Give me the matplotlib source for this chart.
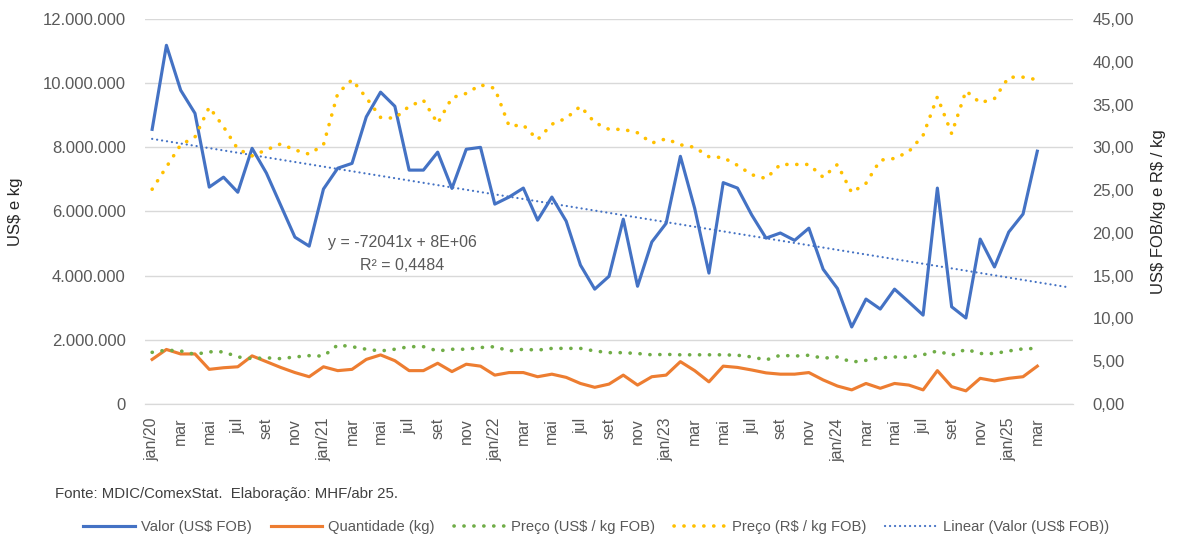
import numpy as np
import matplotlib
matplotlib.use("Agg")
import matplotlib.pyplot as plt
from matplotlib.ticker import FuncFormatter

plt.rcParams['font.family'] = ['Liberation Sans', 'DejaVu Sans']

months = ["jan/20","fev","mar","abr","mai","jun","jul","ago","set","out","nov","dez",
          "jan/21","fev","mar","abr","mai","jun","jul","ago","set","out","nov","dez",
          "jan/22","fev","mar","abr","mai","jun","jul","ago","set","out","nov","dez",
          "jan/23","fev","mar","abr","mai","jun","jul","ago","set","out","nov","dez",
          "jan/24","fev","mar","abr","mai","jun","jul","ago","set","out","nov","dez",
          "jan/25","fev","mar"]

valor = [8.56, 11.18, 9.78, 9.06, 6.76, 7.07, 6.60, 7.97, 7.20, 6.20, 5.20, 4.92,
         6.70, 7.35, 7.50, 8.95, 9.72, 9.28, 7.29, 7.29, 7.85, 6.72, 7.94, 8.00,
         6.23, 6.45, 6.73, 5.73, 6.45, 5.70, 4.33, 3.58, 3.98, 5.76, 3.67, 5.05,
         5.63, 7.72, 6.10, 4.08, 6.90, 6.73, 5.89, 5.17, 5.33, 5.10, 5.48, 4.20,
         3.60, 2.40, 3.27, 2.96, 3.58, 3.18, 2.77, 6.73, 3.03, 2.68, 5.14, 4.27,
         5.36, 5.92, 7.88]  # milhões US$

quantidade = [1.39, 1.70, 1.56, 1.56, 1.08, 1.13, 1.16, 1.50, 1.32, 1.14, 0.98, 0.85,
              1.16, 1.04, 1.08, 1.39, 1.53, 1.35, 1.04, 1.04, 1.27, 1.01, 1.24, 1.18,
              0.90, 0.98, 0.98, 0.85, 0.93, 0.83, 0.64, 0.52, 0.62, 0.90, 0.59, 0.85,
              0.90, 1.32, 1.04, 0.69, 1.18, 1.14, 1.06, 0.97, 0.93, 0.93, 0.98, 0.75,
              0.56, 0.44, 0.64, 0.49, 0.64, 0.59, 0.44, 1.04, 0.54, 0.41, 0.80, 0.72,
              0.80, 0.85, 1.18]  # milhões kg

preco_usd = [6.04, 6.3, 6.2, 5.8, 6.1, 6.1, 5.5, 5.3, 5.4, 5.3, 5.5, 5.65,
             5.6, 6.9, 6.7, 6.4, 6.2, 6.4, 6.7, 6.7, 6.2, 6.4, 6.4, 6.6,
             6.7, 6.2, 6.4, 6.3, 6.5, 6.5, 6.5, 6.2, 6.0, 6.0, 5.9, 5.75,
             5.8, 5.75, 5.75, 5.75, 5.75, 5.7, 5.5, 5.15, 5.7, 5.6, 5.7, 5.35,
             5.5, 4.9, 5.1, 5.4, 5.5, 5.45, 5.75, 6.2, 5.7, 6.4, 5.9, 5.9,
             6.2, 6.45, 6.5]

preco_brl = [25.1, 27.7, 30.3, 31.2, 34.7, 32.4, 29.8, 29.0, 29.7, 30.4, 29.7, 29.2,
             30.3, 36.3, 37.9, 35.8, 33.5, 33.4, 34.8, 35.5, 32.8, 35.8, 36.3, 37.3,
             36.9, 32.5, 32.6, 30.9, 32.7, 33.4, 34.8, 32.9, 32.1, 32.1, 31.7, 30.5,
             31.0, 30.3, 30.0, 28.9, 28.8, 27.9, 26.8, 26.35, 28.0, 28.0, 28.0, 26.5,
             28.0, 24.7, 25.8, 28.5, 28.7, 29.5, 31.4, 35.9, 31.6, 36.6, 35.2, 35.7,
             38.2, 38.2, 37.9]

left_ticks = [0, 2, 4, 6, 8, 10, 12]        # milhões
right_ticks = [0, 5, 10, 15, 20, 25, 30, 35, 40, 45]
forecast_periods = 2

BLUE = "#4472C4"
ORANGE = "#ED7D31"
GREEN = "#70AD47"
YELLOW = "#FFC000"
GRAY = "#595959"

W, H = 1178, 539
fig = plt.figure(figsize=(W / 100, H / 100), dpi=100)
ax = fig.add_axes([145 / W, 1 - 404 / H, (1073 - 145) / W, (404 - 19) / H])
ax2 = ax.twinx()

n = len(months)
x = np.arange(n)
v = np.array(valor) * 1e6
q = np.array(quantidade) * 1e6

# trend line (Excel linear, x = 1..n, forward 2 periods)
slope, intercept = np.polyfit(np.arange(1, n + 1), v, 1)
xt = np.arange(0, n + forecast_periods)
yt = slope * (xt + 1) + intercept

ax.plot(x, v, color=BLUE, lw=2.25, solid_joinstyle='round', zorder=4, label="Valor (US\\$ FOB)")
ax.plot(x, q, color=ORANGE, lw=2.25, solid_joinstyle='round', zorder=4, label="Quantidade (kg)")
ax2.plot(x, preco_usd, color=GREEN, lw=2.6, ls=(0, (0.05, 2.7)), dash_capstyle='round',
         label="Preço (US\\$ / kg FOB)")
ax2.plot(x, preco_brl, color=YELLOW, lw=2.6, ls=(0, (0.05, 2.7)), dash_capstyle='round',
         label="Preço (R\\$ / kg FOB)")
ax.plot(xt, yt, color=BLUE, lw=1.6, ls=(0, (0.05, 2.2)), dash_capstyle='round', zorder=3,
        label="Linear (Valor (US\\$ FOB))")

ax.set_xlim(-0.5, n + forecast_periods - 0.5)
ax.set_ylim(0, 12e6)
ax2.set_ylim(0, 45)
ax.set_yticks([t * 1e6 for t in left_ticks])
ax2.set_yticks(right_ticks)
ax.yaxis.set_major_formatter(FuncFormatter(lambda val, p: f"{int(round(val)):,}".replace(",", ".")))
ax2.yaxis.set_major_formatter(FuncFormatter(lambda val, p: f"{val:.2f}".replace(".", ",")))

ax.set_xticks(x[::2])
ax.set_xticklabels(months[::2], rotation=90, va='top', ha='center')

ax.grid(axis='y', color="#D9D9D9", lw=1)
ax.set_axisbelow(True)
for a in (ax, ax2):
    for s in ('top', 'left', 'right'):
        a.spines[s].set_visible(False)
    a.spines['bottom'].set_color("#D9D9D9")
    a.tick_params(length=0, labelsize=12, colors=GRAY)
ax.tick_params(axis='y', pad=14)
ax2.tick_params(axis='y', pad=14)
ax.tick_params(axis='x', pad=10, labelsize=11.5)

ax.set_ylabel("US\\$ e kg", fontsize=12, color="#262626", labelpad=14)
ax2.set_ylabel("US\\$ FOB/kg e R\\$ / kg", fontsize=12, color="#262626", labelpad=12)

fig.text(402 / W, 1 - 243 / H, "y = -72041x + 8E+06", ha='center', va='center', fontsize=11.5, color=GRAY)
fig.text(402 / W, 1 - 265 / H, "R² = 0,4484", ha='center', va='center', fontsize=11.5, color=GRAY)

fig.text(55 / W, 1 - 494 / H, "Fonte: MDIC/ComexStat.  Elaboração: MHF/abr 25.", ha='left', va='center',
         fontsize=10.8, color="#404040")

h1, l1 = ax.get_legend_handles_labels()
h2, l2 = ax2.get_legend_handles_labels()
handles = [h1[0], h1[1], h2[0], h2[1], h1[2]]
labels = [l1[0], l1[1], l2[0], l2[1], l1[2]]
fig.legend(handles, labels, loc='center', bbox_to_anchor=(596 / W, 1 - 527 / H), ncol=5,
           frameon=False, fontsize=10.6, handlelength=3.5, columnspacing=1.3, handletextpad=0.4,
           labelcolor=GRAY)

fig.savefig("out.png", dpi=100)
